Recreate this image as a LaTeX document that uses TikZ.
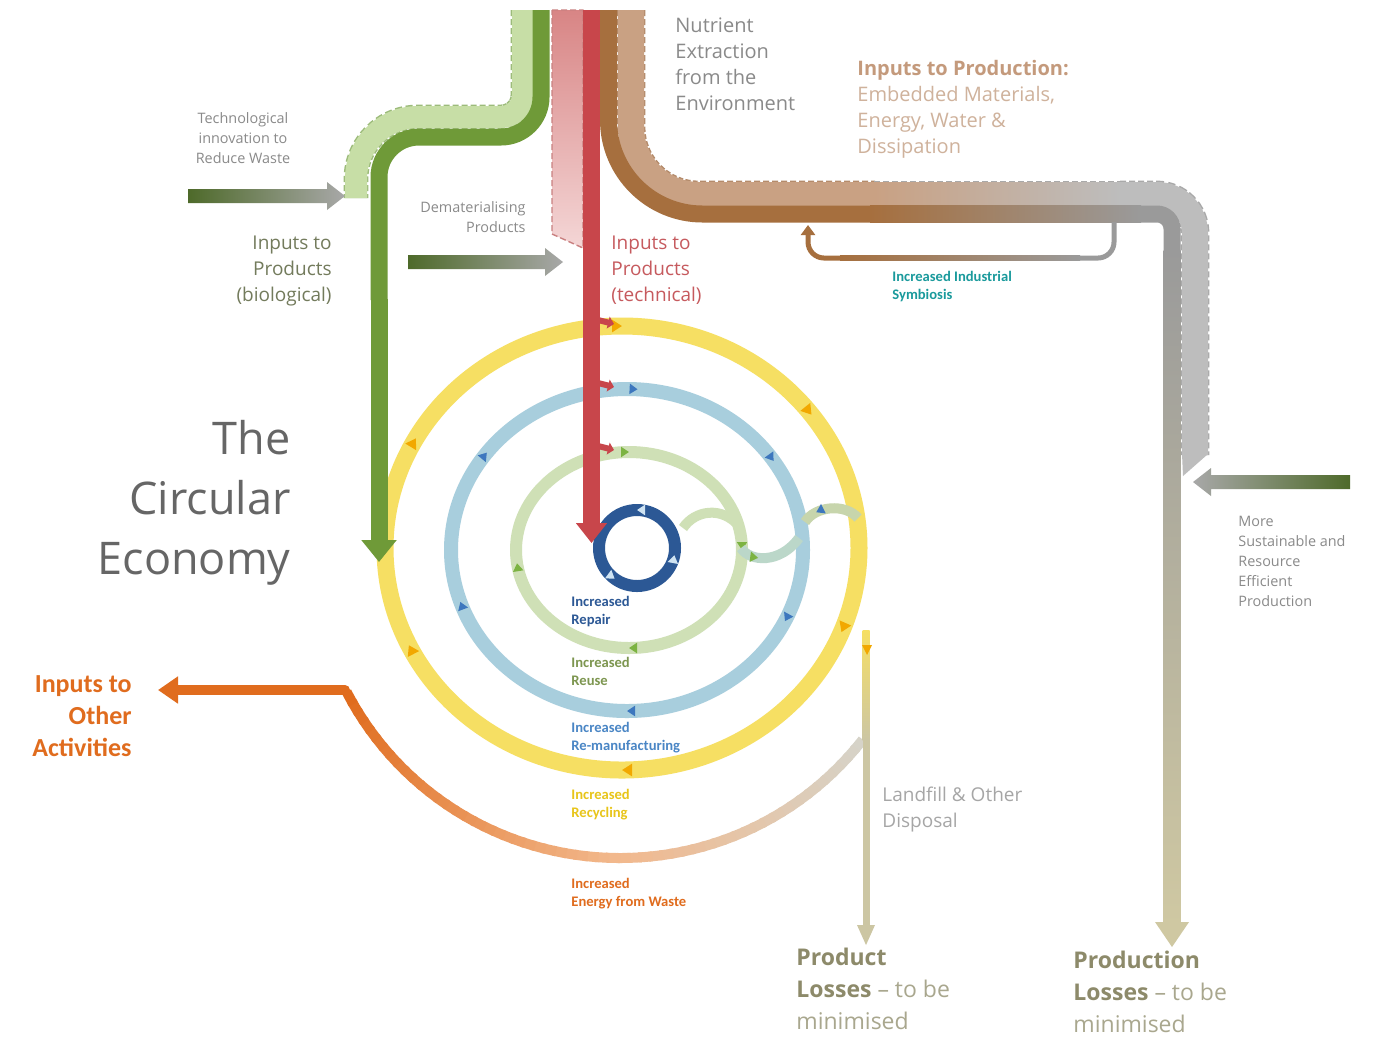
\documentclass[tikz,border=0pt]{standalone}
\usepackage{fontspec}
\setmainfont{Carlito}
\newfontfamily\segoe{Open Sans}
\usetikzlibrary{arrows.meta, decorations.markings}

\definecolor{ringYel}{HTML}{F6DF63}
\definecolor{ringBlu}{HTML}{A8CEDD}
\definecolor{ringGrn}{HTML}{CFE0B6}
\definecolor{repairBlu}{HTML}{2C5895}
\definecolor{tipYel}{HTML}{F2A800}
\definecolor{tipBlu}{HTML}{3D77BE}
\definecolor{tipGrn}{HTML}{7CB342}
\definecolor{tipRep}{HTML}{CFE3F2}
\definecolor{techRed}{HTML}{C8464B}
\definecolor{bioGrn}{HTML}{6F9A38}
\definecolor{bioLight}{HTML}{C7DEA6}
\definecolor{bioEdge}{HTML}{9CBB7A}
\definecolor{brownD}{HTML}{A66F3E}
\definecolor{tanL}{HTML}{C9A183}
\definecolor{tanEdge}{HTML}{B48B6B}
\definecolor{khakiD}{HTML}{A7A07E}
\definecolor{grayD}{HTML}{9A9A9A}
\definecolor{grayDD}{HTML}{8A8A8A}
\definecolor{grayL}{HTML}{BDBDBD}
\definecolor{grayEdge}{HTML}{A9A9A9}
\definecolor{tanP}{HTML}{CFC8A2}
\definecolor{pinkT}{HTML}{D88585}
\definecolor{pinkB}{HTML}{F4D6D6}
\definecolor{pinkEdge}{HTML}{C98080}
\definecolor{arrGrn}{HTML}{4E6A2A}
\definecolor{arrGray}{HTML}{A8A8A8}
\definecolor{eOrange}{HTML}{E06C1E}
\definecolor{eLight}{HTML}{F2B88C}
\definecolor{eBeige}{HTML}{D6D3C8}
\definecolor{landKhaki}{HTML}{CCC6A3}
\definecolor{symTeal}{HTML}{1A9A9C}
\definecolor{nutGray}{HTML}{8A8A8A}
\definecolor{titleGray}{HTML}{666666}
\definecolor{bioTxt}{HTML}{737B5C}
\definecolor{techTxt}{HTML}{C65A5E}
\definecolor{tanBold}{HTML}{C49A7C}
\definecolor{tanTxt}{HTML}{CFB29C}
\definecolor{reuseTxt}{HTML}{7D9650}
\definecolor{remanTxt}{HTML}{4A86C5}
\definecolor{recycTxt}{HTML}{E8C51A}
\definecolor{lossBold}{HTML}{8D8A6A}
\definecolor{lossTxt}{HTML}{A9A78E}
\definecolor{landGray}{HTML}{A6A6A6}

\begin{document}
\begin{tikzpicture}[x=0.5pt, y=-0.5pt,
    softband/.style n args={3}{draw=#1, line width=#2,
        preaction={draw=#3, dash pattern=on 3pt off 1.5pt, line width=#2+1.4pt}},
    ytip/.style={postaction={decorate, decoration={markings,
        mark=at position #1 with {\arrow[tipYel]{Triangle[width=6pt,length=5pt]}}}}},
    btip/.style={postaction={decorate, decoration={markings,
        mark=at position #1 with {\arrow[tipBlu]{Triangle[width=5pt,length=4pt]}}}}},
    gtip/.style={postaction={decorate, decoration={markings,
        mark=at position #1 with {\arrow[tipGrn]{Triangle[width=5pt,length=4pt]}}}}},
    rtip/.style={postaction={decorate, decoration={markings,
        mark=at position #1 with {\arrowreversed[tipRep]{Triangle[width=5pt,length=4pt]}}}}},
    txt/.style={inner sep=0pt, align=left, anchor=north west, font=\segoe\fontsize{10}{13}\selectfont},
    tiny/.style={inner sep=0pt, text=nutGray, font=\segoe\fontsize{7.2}{10}\selectfont},
    lbl/.style={inner sep=0pt, align=left, anchor=north west, font=\bfseries\fontsize{7.3}{9}\selectfont},
    loss/.style={inner sep=0pt, align=left, anchor=north west, text=lossTxt, font=\segoe\fontsize{11.5}{16}\selectfont}]

    % Page
    \fill[white] (0,0) rectangle (1374,1041);
    \useasboundingbox (0,0) rectangle (1374,1041);

    % Key points
    \coordinate (yc) at (622,548);
    \coordinate (bc) at (627,550);
    \coordinate (gc) at (629,550);
    \coordinate (rc) at (637,548);
    \coordinate (ewcorner) at (345,690);

    % Biological inputs
    \draw[softband={bioLight}{11pt}{bioEdge}, rounded corners=11pt] (523,10) -- (523,117) [rounded corners=31pt] -- (356,117) -- (356,198);
    \draw[bioGrn, line width=8.5pt, rounded corners=20pt] (541,10) -- (541,137) -- (379,137) -- (379,300);

    % Technical inputs (dematerialised part)
    \shadedraw[top color=pinkT, bottom color=pinkB, draw=pinkEdge, dash pattern=on 3pt off 1.5pt, line width=0.7pt] (552,10) -- (583,10) -- (583,248) -- (552,234) -- cycle;

    % Inputs to production, outer band
    \draw[softband={tanL}{13pt}{tanEdge}, rounded corners=34pt] (631,10) -- (631,195) -- (875,195);
    \shade[left color=tanL, right color=grayL] (874,182) rectangle (1121,208);
    \draw[grayEdge, dash pattern=on 3pt off 1.5pt, line width=0.7pt] (874,181.3) -- (1121,181.3);
    \draw[softband={grayL}{13pt}{grayEdge}, rounded corners=19pt] (1120,195) -- (1195,195) -- (1195,455);
    \fill[grayL] (1182,454) -- (1208,454) -- (1183,476) -- cycle;

    % Inputs to production, inner band
    \draw[brownD, line width=8.5pt, rounded corners=47pt] (608.5,10) -- (608.5,214) -- (871,214);
    \shade[left color=brownD, middle color=khakiD, right color=grayD] (870,205.5) rectangle (1141,222.5);
    \draw[grayD, line width=8.5pt, rounded corners=7.5pt] (1140,214) -- (1172,214) -- (1172,251);
    \shade[top color=grayD, middle color=grayDD, bottom color=tanP] (1163.5,250) rectangle (1180.5,925);
    \fill[tanP] (1155,922) -- (1189,922) -- (1172,947) -- cycle;

    % Industrial symbiosis loop
    \draw[grayD, line width=2.5pt, rounded corners=8pt] (1114,222) -- (1114,258) -- (1079,258);
    \shade[left color=brownD, middle color=symTeal, right color=grayD] (840,255.5) rectangle (1080,260.5);
    \draw[brownD, line width=2.5pt, rounded corners=8pt, -{Triangle[width=7pt,length=5pt]}] (841,258) -- (808,258) -- (808,225);

    % Energy from waste
    \foreach \a in {38,40,...,88}{
        \pgfmathtruncatemacro\p{(\a-38)*100/52}
        \draw[line width=5pt, eLight!\p!eBeige] ({620+308*cos(\a)},{550+308*sin(\a)}) arc[start angle=\a, delta angle=2.6, radius=308];
    }
    \foreach \a in {90,92,...,150}{
        \pgfmathtruncatemacro\p{(\a-90)*100/60}
        \draw[line width=5pt, eOrange!\p!eLight] ({620+308*cos(\a)},{550+308*sin(\a)}) arc[start angle=\a, delta angle=2.6, radius=308];
    }
    \fill[eOrange] (ewcorner) circle[radius=5];
    \draw[eOrange, line width=5pt, -{Triangle[width=13pt,length=10pt]}] (ewcorner) -- (158,690);

    % Landfill
    \shade[top color=ringYel, bottom color=landKhaki] (862.5,630) rectangle (869.5,740);
    \fill[landKhaki] (862.5,739) rectangle (869.5,928);
    \fill[landKhaki] (857,925) -- (875,925) -- (866,945) -- cycle;
    \fill[tipYel] (862,645) -- (872,645) -- (867,655) -- cycle;

    % Rings
    \draw[ringYel, line width=8.5pt, ytip=0.06, ytip=0.25, ytip=0.43, ytip=0.58, ytip=0.75, ytip=0.9] (yc) ellipse[x radius=237, y radius=222];
    \draw[ringBlu, line width=7pt, btip=0.07, btip=0.25, btip=0.45, btip=0.6, btip=0.76, btip=0.91] (bc) ellipse[x radius=176, y radius=161];
    \draw[ringGrn, line width=6pt, gtip=0.0, gtip=0.25, gtip=0.48, gtip=0.75] (gc) ellipse[x radius=113, y radius=98];

    % Links between rings
    \draw[ringGrn, line width=5pt] (683,528) .. controls (695,510) and (722,506) .. (739,526);
    \draw[ringGrn!50!ringBlu, line width=5pt, gtip=0.3] (741,548) .. controls (750,562) and (780,564) .. (799,538);
    \draw[ringBlu!60!ringYel, line width=5pt, postaction={decorate, decoration={markings,
        mark=at position 0.25 with {\arrowreversed[tipBlu]{Triangle[width=5pt,length=4pt]}}}}] (805,522) .. controls (815,506) and (845,503) .. (858,518);

    % Repair
    \draw[repairBlu, line width=6pt, rtip=0.03, rtip=0.35, rtip=0.75] (rc) circle[radius=38];

    % Technical inputs
    \draw[techRed, line width=8.5pt, -{Triangle[width=15pt,length=10pt]}] (591.5,10) -- (591.5,543);
    \foreach \yy in {320,383,446}
        \draw[techRed, line width=3pt, -{Triangle[width=6pt,length=3pt]}] (598,\yy) -- (614,\yy+4);

    % Biological inputs, end
    \draw[bioGrn, line width=8.5pt, -{Triangle[width=17pt,length=11pt]}] (379,299) -- (379,562);

    % Block arrows
    \shade[left color=arrGrn, right color=arrGray] (188,189) -- (327,189) -- (327,182) -- (345,196) -- (327,210) -- (327,203) -- (188,203) -- cycle;
    \shade[left color=arrGrn, right color=arrGray] (408,255) -- (545,255) -- (545,248) -- (563,262) -- (545,276) -- (545,269) -- (408,269) -- cycle;
    \shade[left color=arrGray, right color=arrGrn] (1350,475) -- (1211,475) -- (1211,468) -- (1193,482) -- (1211,496) -- (1211,489) -- (1350,489) -- cycle;

    % Texts
    \node[txt, text=nutGray] (nutrient) at (675,17) {Nutrient\\Extraction\\from the\\Environment};
    \node[txt, text=tanTxt] (prodin) at (857,60) {\textcolor{tanBold}{\bfseries Inputs to Production:}\\Embedded Materials,\\Energy, Water \&\\Dissipation};
    \node[tiny, align=center, anchor=north] (techinno) at (243,112) {Technological\\innovation to\\Reduce Waste};
    \node[txt, align=right, anchor=north east, text=bioTxt, font=\segoe\fontsize{9.5}{13}\selectfont] (bioin) at (332,236) {Inputs to\\Products\\(biological)};
    \node[tiny, align=right, anchor=north east] (demat) at (526,201) {Dematerialising\\Products};
    \node[txt, text=techTxt, font=\segoe\fontsize{9.5}{13}\selectfont] (techin) at (611,236) {Inputs to\\Products\\(technical)};
    \node[inner sep=0pt, anchor=north east, align=right, text=titleGray, font=\segoe\fontsize{22.5}{30}\selectfont] (title) at (291,420) {The\\Circular\\Economy};
    \node[inner sep=0pt, anchor=north east, align=right, text=eOrange, font=\bfseries\fontsize{13}{16}\selectfont] (otherin) at (132,675) {Inputs to\\Other\\Activities};
    \node[lbl, text=repairBlu] (repair) at (571,596) {Increased\\Repair};
    \node[lbl, text=reuseTxt] (reuse) at (571,657) {Increased\\Reuse};
    \node[lbl, text=remanTxt] (reman) at (571,722) {Increased\\Re-manufacturing};
    \node[lbl, text=recycTxt] (recyc) at (571,789) {Increased\\Recycling};
    \node[lbl, text=eOrange] (energy) at (571,878) {Increased\\Energy from Waste};
    \node[lbl, text=symTeal] (symb) at (892,271) {Increased Industrial\\Symbiosis};
    \node[txt, text=landGray, font=\segoe\fontsize{9.5}{13}\selectfont] (landfill) at (882,787) {Landfill \& Other\\Disposal};
    \node[loss] (prodloss) at (796,948) {\textcolor{lossBold}{\bfseries Product}\\\textcolor{lossBold}{\bfseries Losses} – to be\\minimised};
    \node[loss] (prodnloss) at (1073,951) {\textcolor{lossBold}{\bfseries Production}\\\textcolor{lossBold}{\bfseries Losses} – to be\\minimised};
    \node[tiny, align=left, anchor=north west] (moresust) at (1238,516) {More\\Sustainable and\\Resource\\Efficient\\Production};

\end{tikzpicture}
\end{document}
